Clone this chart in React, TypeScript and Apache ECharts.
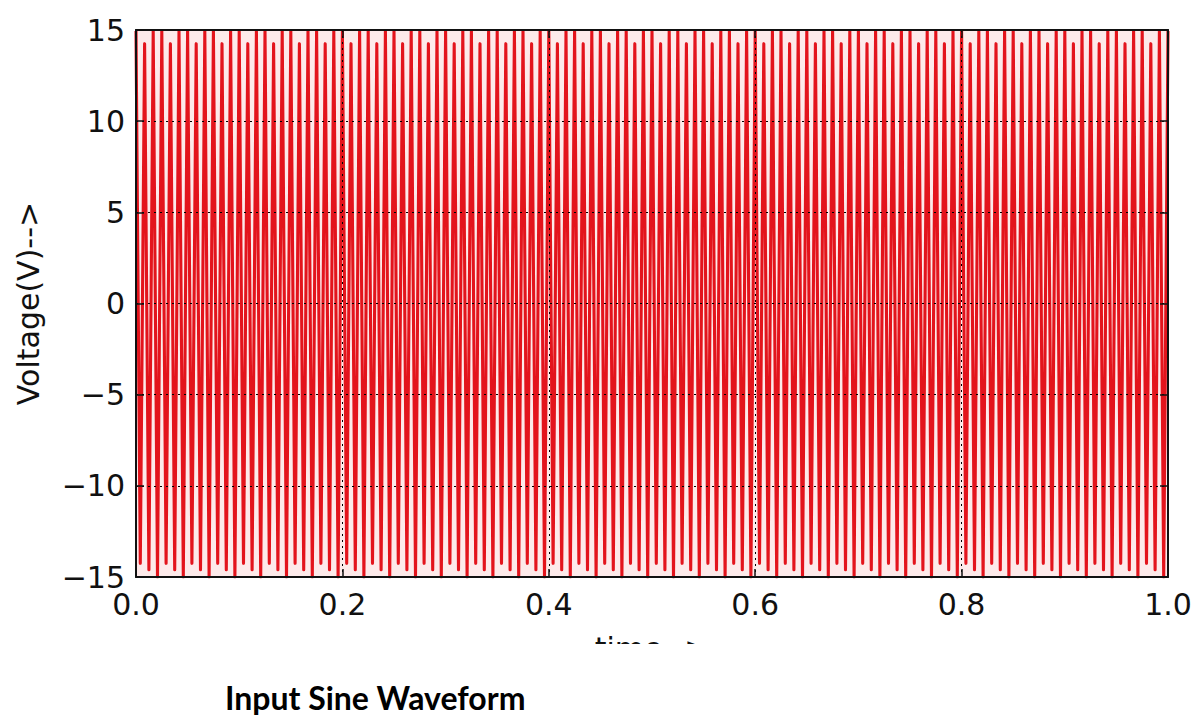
import React, { useEffect, useRef } from "react";
import * as echarts from "echarts";

// Waveform extremes (volts).
// Peak k sits at t = k/120 s, trough k at t = (k + 0.5)/120 s.
const PEAKS: number[] = [
  14.95, 14.25, 14.95, 14.95, 14.25, 14.95, 14.95, 14.25, 14.95, 14.95, 14.25, 14.95,
  14.95, 14.25, 14.95, 14.95, 14.25, 14.95, 14.95, 14.25, 14.95, 14.95, 14.25, 14.95,
  14.95, 14.25, 14.95, 14.95, 14.25, 14.95, 14.95, 14.25, 14.95, 14.95, 14.25, 14.95,
  14.95, 14.25, 14.95, 14.95, 14.25, 14.95, 14.95, 14.25, 14.95, 14.95, 14.25, 14.95,
  14.95, 14.25, 14.95, 14.95, 14.25, 14.95, 14.95, 14.25, 14.95, 14.95, 14.25, 14.95,
  14.95, 14.25, 14.95, 14.95, 14.25, 14.95, 14.95, 14.25, 14.95, 14.95, 14.25, 14.95,
  14.95, 14.25, 14.95, 14.95, 14.25, 14.95, 14.95, 14.25, 14.95, 14.95, 14.25, 14.95,
  14.95, 14.25, 14.95, 14.95, 14.25, 14.95, 14.95, 14.25, 14.95, 14.95, 14.25, 14.95,
  14.95, 14.25, 14.95, 14.95, 14.25, 14.95, 14.95, 14.25, 14.95, 14.95, 14.25, 14.95,
  14.95, 14.25, 14.95, 14.95, 14.25, 14.95, 14.95, 14.25, 14.95, 14.95, 14.25, 14.95,
  14.95,
];

const TROUGHS: number[] = [
  -14.25, -14.6, -15, -14.25, -14.6, -15, -14.25, -14.6, -15, -14.25, -14.6, -15,
  -14.25, -14.6, -15, -14.25, -14.6, -15, -14.25, -14.6, -15, -14.25, -14.6, -15,
  -14.25, -14.6, -15, -14.25, -14.6, -15, -14.25, -14.6, -15, -14.25, -14.6, -15,
  -14.25, -14.6, -15, -14.25, -14.6, -15, -14.25, -14.6, -15, -14.25, -14.6, -15,
  -14.25, -14.6, -15, -14.25, -14.6, -15, -14.25, -14.6, -15, -14.25, -14.6, -15,
  -14.25, -14.6, -15, -14.25, -14.6, -15, -14.25, -14.6, -15, -14.25, -14.6, -15,
  -14.25, -14.6, -15, -14.25, -14.6, -15, -14.25, -14.6, -15, -14.25, -14.6, -15,
  -14.25, -14.6, -15, -14.25, -14.6, -15, -14.25, -14.6, -15, -14.25, -14.6, -15,
  -14.25, -14.6, -15, -14.25, -14.6, -15, -14.25, -14.6, -15, -14.25, -14.6, -15,
  -14.25, -14.6, -15, -14.25, -14.6, -15, -14.25, -14.6, -15, -14.25, -14.6, -15,
];

const CYCLES_PER_SECOND = 120;
const X_TICKS = [0, 0.2, 0.4, 0.6, 0.8, 1.0];
const Y_TICKS = [-15, -10, -5, 0, 5, 10, 15];
const X_NAME = "time-->";
const Y_NAME = "Voltage(V)-->";
const CAPTION = "Input Sine Waveform";

function buildSeries(): [number, number][] {
  const pts: [number, number][] = [];
  for (let k = 0; k < PEAKS.length; k++) {
    pts.push([k / CYCLES_PER_SECOND, PEAKS[k]]);
    if (k < TROUGHS.length) {
      pts.push([(k + 0.5) / CYCLES_PER_SECOND, TROUGHS[k]]);
    }
  }
  return pts;
}

const FONT = "DejaVu Sans";

export default function App() {
  const ref = useRef<HTMLDivElement>(null);
  useEffect(() => {
    if (!ref.current) return;
    const chart = echarts.init(ref.current, undefined, { renderer: "svg" });
    const gridLine = { show: true, lineStyle: { color: "#000", type: [2, 4] as any, width: 1 } };
    const frame = { show: true, onZero: false, lineStyle: { color: "#111", width: 2 } };
    const ticks = { show: true, inside: true, length: 8, lineStyle: { color: "#111", width: 1.5 } };
    chart.setOption({
      animation: false,
      backgroundColor: "#fff",
      grid: {
        left: 136,
        top: 30,
        width: 1032,
        height: 547,
        containLabel: false,
        show: true,
        backgroundColor: "#fdeaea",
        borderWidth: 0,
      },
      xAxis: [
        {
          type: "value",
          min: X_TICKS[0],
          max: X_TICKS[X_TICKS.length - 1],
          interval: 0.2,
          z: 5,
          position: "bottom",
          axisLine: frame,
          axisTick: ticks,
          splitLine: gridLine,
          axisLabel: {
            fontFamily: FONT,
            fontSize: 30,
            color: "#111",
            margin: 12,
            formatter: (v: number) => v.toFixed(1),
          },
          name: X_NAME,
          nameLocation: "middle",
          nameGap: 56,
          nameTextStyle: { fontFamily: FONT, fontSize: 30, color: "#111", verticalAlign: "top" },
        },
        {
          type: "value",
          min: 0,
          max: 1,
          interval: 0.2,
          z: 5,
          position: "top",
          axisLine: frame,
          axisTick: ticks,
          splitLine: { show: false },
          axisLabel: { show: false },
        },
      ],
      yAxis: [
        {
          type: "value",
          min: Y_TICKS[0],
          max: Y_TICKS[Y_TICKS.length - 1],
          interval: 5,
          z: 5,
          position: "left",
          axisLine: frame,
          axisTick: ticks,
          splitLine: gridLine,
          axisLabel: {
            fontFamily: FONT,
            fontSize: 30,
            color: "#111",
            margin: 11,
            formatter: (v: number) => (v < 0 ? "\u2212" + Math.abs(v) : String(v)),
          },
          name: Y_NAME,
          nameLocation: "middle",
          nameRotate: 90,
          nameGap: 93,
          nameTextStyle: { fontFamily: FONT, fontSize: 30, color: "#111" },
        },
        {
          type: "value",
          min: -15,
          max: 15,
          interval: 5,
          z: 5,
          position: "right",
          axisLine: frame,
          axisTick: ticks,
          splitLine: { show: false },
          axisLabel: { show: false },
        },
      ],
      series: [
        {
          type: "line",
          xAxisIndex: 0,
          yAxisIndex: 0,
          data: buildSeries(),
          showSymbol: false,
          symbol: "none",
          z: 2,
          lineStyle: { color: "#e3141c", width: 3.1, join: "round" },
        },
      ],
      graphic: [
        {
          type: "rect",
          left: 0,
          top: 644,
          z: 100,
          shape: { width: 1200, height: 73 },
          style: { fill: "#fff" },
        },
        {
          type: "text",
          left: 225,
          top: 681,
          z: 101,
          style: {
            text: CAPTION,
            fontFamily: "Lato",
            fontWeight: "bold",
            fontSize: 32,
            lineHeight: 32,
            fill: "#000",
          },
        },
      ],
    });
    return () => chart.dispose();
  }, []);
  return (
    <div
      ref={ref}
      style={{ position: "absolute", left: 0, top: 0, width: 1200, height: 717, background: "#fff" }}
    />
  );
}
